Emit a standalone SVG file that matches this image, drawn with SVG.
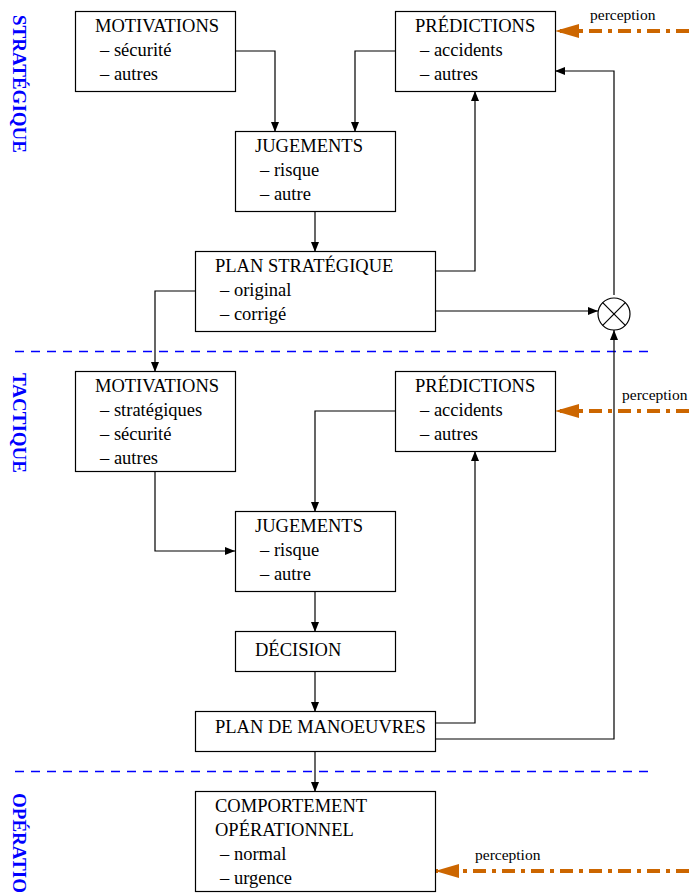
<svg xmlns="http://www.w3.org/2000/svg" width="689" height="893" viewBox="0 0 689 893" font-family="Liberation Serif, serif">
  <style>
    .box { fill: #fff; stroke: #000; stroke-width: 1.2; }
    .t { font-size: 18.5px; fill: #000; }
    .small { font-size: 15.5px; fill: #000; }
    .side { font-size: 19px; font-weight: bold; fill: #0000ff; }
    .wire { fill: none; stroke: #000; stroke-width: 1.2; }
    .perc { fill: none; stroke: #cc6600; stroke-width: 4; stroke-dasharray: 13 6 4 6; }
  </style>
  <defs>
    <marker id="arr" markerWidth="10" markerHeight="8" refX="10" refY="4" orient="auto" markerUnits="userSpaceOnUse">
      <path d="M0,0 L10,4 L0,8 Z" fill="#000"/>
    </marker>
    <marker id="parr" markerWidth="24" markerHeight="14" refX="24" refY="7" orient="auto" markerUnits="userSpaceOnUse">
      <path d="M0,0 L24,7 L0,14 Z" fill="#cc6600"/>
    </marker>
  </defs>

  <rect width="689" height="893" fill="#fff"/>

  <!-- level labels -->
  <text class="side" transform="translate(13,15) rotate(90)">STRATÉGIQUE</text>
  <text class="side" transform="translate(13,373) rotate(90)">TACTIQUE</text>
  <text class="side" transform="translate(13,793) rotate(90)">OPÉRATIO</text>

  <!-- level separators -->
  <line x1="15" y1="351.5" x2="650" y2="351.5" stroke="#0000ff" stroke-width="1.3" stroke-dasharray="9 7"/>
  <line x1="15" y1="771.5" x2="650" y2="771.5" stroke="#0000ff" stroke-width="1.3" stroke-dasharray="9 7"/>

  <!-- connectors -->
  <g id="connectors">
    <polyline class="wire" points="235,51 275,51 275,132" marker-end="url(#arr)"/>
    <polyline class="wire" points="395,51 355,51 355,132" marker-end="url(#arr)"/>
    <line class="wire" x1="315" y1="211" x2="315" y2="252" marker-end="url(#arr)"/>
    <polyline class="wire" points="435,271 475,271 475,91" marker-end="url(#arr)"/>
    <line class="wire" x1="435" y1="311" x2="598" y2="311" marker-end="url(#arr)"/>
    <polyline class="wire" points="614,295 614,71 555,71" marker-end="url(#arr)"/>
    <polyline class="wire" points="195,291 155,291 155,372" marker-end="url(#arr)"/>
    <polyline class="wire" points="395,411 315,411 315,512" marker-end="url(#arr)"/>
    <polyline class="wire" points="155,471 155,551 235,551" marker-end="url(#arr)"/>
    <line class="wire" x1="315" y1="591" x2="315" y2="632" marker-end="url(#arr)"/>
    <line class="wire" x1="315" y1="671" x2="315" y2="712" marker-end="url(#arr)"/>
    <polyline class="wire" points="435,723 475,723 475,451" marker-end="url(#arr)"/>
    <polyline class="wire" points="435,739 614,739 614,330" marker-end="url(#arr)"/>
    <line class="wire" x1="315" y1="751" x2="315" y2="792" marker-end="url(#arr)"/>
    <!-- perception inputs -->
    <line class="perc" x1="689" y1="31" x2="555" y2="31" marker-end="url(#parr)"/>
    <line class="perc" x1="689" y1="411" x2="555" y2="411" marker-end="url(#parr)"/>
    <line class="perc" x1="689" y1="871" x2="435" y2="871" marker-end="url(#parr)"/>
  </g>

  <text class="small" x="590" y="20">perception</text>
  <text class="small" x="622" y="400">perception</text>
  <text class="small" x="475" y="860">perception</text>

  <!-- strategic level -->
  <g id="motivations-strat">
    <rect class="box" x="75.5" y="11.5" width="160" height="80"/>
    <text class="t" x="95" y="32">MOTIVATIONS</text>
    <text class="t" x="100" y="56">– sécurité</text>
    <text class="t" x="100" y="80">– autres</text>
  </g>
  <g id="predictions-strat">
    <rect class="box" x="395.5" y="11.5" width="160" height="80"/>
    <text class="t" x="415" y="32">PRÉDICTIONS</text>
    <text class="t" x="420" y="56">– accidents</text>
    <text class="t" x="420" y="80">– autres</text>
  </g>
  <g id="jugements-strat">
    <rect class="box" x="235.5" y="131.5" width="160" height="80"/>
    <text class="t" x="255" y="152">JUGEMENTS</text>
    <text class="t" x="260" y="176">– risque</text>
    <text class="t" x="260" y="200">– autre</text>
  </g>
  <g id="plan-strat">
    <rect class="box" x="195.5" y="251.5" width="240" height="80"/>
    <text class="t" x="215" y="272">PLAN STRATÉGIQUE</text>
    <text class="t" x="220" y="296">– original</text>
    <text class="t" x="220" y="320">– corrigé</text>
  </g>
  <g id="comparateur">
    <circle cx="614" cy="314" r="16" fill="#fff" stroke="#000" stroke-width="1.2"/>
    <line x1="602.7" y1="302.7" x2="625.3" y2="325.3" stroke="#000" stroke-width="1.2"/>
    <line x1="625.3" y1="302.7" x2="602.7" y2="325.3" stroke="#000" stroke-width="1.2"/>
  </g>

  <!-- tactical level -->
  <g id="motivations-tact">
    <rect class="box" x="75.5" y="371.5" width="160" height="100"/>
    <text class="t" x="95" y="392">MOTIVATIONS</text>
    <text class="t" x="100" y="416">– stratégiques</text>
    <text class="t" x="100" y="440">– sécurité</text>
    <text class="t" x="100" y="464">– autres</text>
  </g>
  <g id="predictions-tact">
    <rect class="box" x="395.5" y="371.5" width="160" height="80"/>
    <text class="t" x="415" y="392">PRÉDICTIONS</text>
    <text class="t" x="420" y="416">– accidents</text>
    <text class="t" x="420" y="440">– autres</text>
  </g>
  <g id="jugements-tact">
    <rect class="box" x="235.5" y="511.5" width="160" height="80"/>
    <text class="t" x="255" y="532">JUGEMENTS</text>
    <text class="t" x="260" y="556">– risque</text>
    <text class="t" x="260" y="580">– autre</text>
  </g>
  <g id="decision">
    <rect class="box" x="235.5" y="631.5" width="160" height="40"/>
    <text class="t" x="255" y="656">DÉCISION</text>
  </g>
  <g id="plan-manoeuvres">
    <rect class="box" x="195.5" y="711.5" width="240" height="40"/>
    <text class="t" x="215" y="733">PLAN DE MANOEUVRES</text>
  </g>

  <!-- operational level -->
  <g id="comportement">
    <rect class="box" x="195.5" y="791.5" width="240" height="100"/>
    <text class="t" x="215" y="812">COMPORTEMENT</text>
    <text class="t" x="215" y="836">OPÉRATIONNEL</text>
    <text class="t" x="220" y="860">– normal</text>
    <text class="t" x="220" y="884">– urgence</text>
  </g>
</svg>
